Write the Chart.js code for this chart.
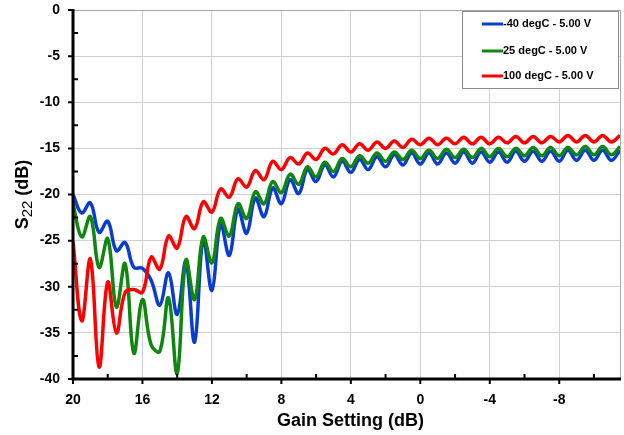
<!DOCTYPE html>
<html>
<head>
<meta charset="utf-8">
<script src="https://cdn.jsdelivr.net/npm/chart.js@4.4.1/dist/chart.umd.min.js"></script>
<style>
  body { margin: 0; background: #fff; }
  #wrap { width: 624px; height: 435px; position: relative; }
</style>
</head>
<body>
<div id="wrap"><canvas id="s22Chart"></canvas></div>
<script>
// gain setting steps, 20 dB down to -11.5 dB
const gainSetting = [
  20, 19.5, 19, 18.5, 18, 17.5, 17, 16.5,
  16, 15.5, 15, 14.5, 14, 13.5, 13, 12.5,
  12, 11.5, 11, 10.5, 10, 9.5, 9, 8.5,
  8, 7.5, 7, 6.5, 6, 5.5, 5, 4.5,
  4, 3.5, 3, 2.5, 2, 1.5, 1, 0.5,
  0, -0.5, -1, -1.5, -2, -2.5, -3, -3.5,
  -4, -4.5, -5, -5.5, -6, -6.5, -7, -7.5,
  -8, -8.5, -9, -9.5, -10, -10.5, -11, -11.5
];

// S22 (dB) per temperature
const s22Cold = [
  -20.0, -22.0, -20.9, -24.1, -22.9, -26.1, -25.2, -27.9,
  -28.0, -29.3, -32.0, -28.5, -33.0, -27.3, -36.0, -24.8,
  -30.4, -23.2, -26.6, -21.6, -24.2, -20.4, -22.4, -19.3,
  -21.0, -18.4, -19.9, -17.3, -18.6, -16.8, -18.1, -16.4,
  -17.6, -16.2, -17.3, -15.9, -17.0, -15.7, -16.8, -15.5,
  -16.7, -15.5, -16.7, -15.5, -16.6, -15.4, -16.6, -15.4,
  -16.5, -15.4, -16.5, -15.3, -16.4, -15.3, -16.4, -15.3,
  -16.4, -15.2, -16.3, -15.2, -16.3, -15.2, -16.3, -15.2
];
const s22Room = [
  -21.0, -24.6, -22.4, -27.9, -24.8, -32.2, -27.5, -37.2,
  -31.4, -36.3, -37.0, -31.2, -39.4, -27.1, -31.4, -24.6,
  -27.4, -22.6, -24.5, -21.0, -22.6, -19.7, -21.0, -18.6,
  -19.8, -17.8, -18.9, -17.0, -18.1, -16.5, -17.5, -16.1,
  -17.0, -15.8, -16.6, -15.5, -16.4, -15.4, -16.2, -15.2,
  -16.1, -15.2, -16.1, -15.1, -16.0, -15.1, -16.0, -15.0,
  -15.9, -15.0, -15.9, -15.0, -15.8, -14.9, -15.8, -14.9,
  -15.8, -14.9, -15.7, -14.8, -15.7, -14.8, -15.7, -14.8
];
const s22Hot = [
  -25.1, -33.7, -27.0, -38.7, -29.5, -35.0, -30.6, -30.3,
  -30.6, -26.8, -28.1, -24.5, -25.8, -22.4, -23.7, -20.8,
  -21.9, -19.4, -20.3, -18.3, -19.2, -17.4, -18.4, -16.4,
  -17.3, -16.0, -16.7, -15.5, -16.2, -15.0, -15.6, -14.6,
  -15.4, -14.5, -15.2, -14.3, -15.0, -14.2, -14.9, -14.0,
  -14.6, -13.9, -14.6, -13.9, -14.5, -13.8, -14.5, -13.8,
  -14.5, -13.8, -14.4, -13.7, -14.4, -13.7, -14.4, -13.7,
  -14.3, -13.6, -14.3, -13.6, -14.3, -13.6, -14.3, -13.6
];

const seriesLabels = ['-40 degC - 5.00 V', '25 degC - 5.00 V', '100 degC - 5.00 V'];
const xTicks = [20, 16, 12, 8, 4, 0, -4, -8];
const xMinorTicks = [18, 14, 10, 6, 2, -2, -6, -10];
const yTicks = [0, -5, -10, -15, -20, -25, -30, -35, -40];
const yMinorTicks = [-2.5, -7.5, -12.5, -17.5, -22.5, -27.5, -32.5, -37.5];

const FONT = '"Liberation Sans", Arial, sans-serif';

function pts(vals) {
  return gainSetting.map((g, i) => ({ x: g, y: vals[i] }));
}

// minor/major tick marks, y labels, frame, titles and legend
const decorations = {
  id: 'decorations',
  afterDatasetsDraw(chart) {
    const ctx = chart.ctx;
    const a = chart.chartArea;
    const xs = chart.scales.x, ys = chart.scales.y;
    ctx.save();
    // grey frame top/right
    ctx.strokeStyle = '#a8a8a8';
    ctx.lineWidth = 1;
    ctx.beginPath();
    ctx.moveTo(a.left, a.top + 0.5);
    ctx.lineTo(a.right + 0.5, a.top + 0.5);
    ctx.lineTo(a.right + 0.5, a.bottom);
    ctx.stroke();

    // axes
    ctx.strokeStyle = '#000';
    ctx.lineWidth = 3;
    ctx.beginPath();
    ctx.moveTo(a.left, a.top - 1);
    ctx.lineTo(a.left, a.bottom);
    ctx.lineTo(a.right + 1, a.bottom);
    ctx.stroke();

    ctx.lineWidth = 2;
    ctx.beginPath();
    yTicks.forEach(v => { const y = ys.getPixelForValue(v); ctx.moveTo(a.left - 5, y); ctx.lineTo(a.left, y); });
    yMinorTicks.forEach(v => { const y = ys.getPixelForValue(v); ctx.moveTo(a.left, y); ctx.lineTo(a.left + 5, y); });
    xTicks.forEach(v => { const x = xs.getPixelForValue(v); ctx.moveTo(x, a.bottom); ctx.lineTo(x, a.bottom + 5); });
    xMinorTicks.forEach(v => { const x = xs.getPixelForValue(v); ctx.moveTo(x, a.bottom - 5); ctx.lineTo(x, a.bottom); });
    ctx.stroke();

    // y tick labels
    ctx.fillStyle = '#000';
    ctx.font = 'bold 14px ' + FONT;
    ctx.textAlign = 'right';
    ctx.textBaseline = 'middle';
    ys.ticks.forEach(t => ctx.fillText(String(t.value), a.left - 13, ys.getPixelForValue(t.value)));

    // x title
    ctx.font = 'bold 18px ' + FONT;
    ctx.textAlign = 'center';
    ctx.fillText('Gain Setting (dB)', (a.left + a.right) / 2 + 4, 421);

    // y title with subscript
    ctx.translate(23, (a.top + a.bottom) / 2);
    ctx.rotate(-Math.PI / 2);
    ctx.textAlign = 'left';
    const big = 'bold 18px ' + FONT, small = '15px ' + FONT;
    ctx.font = big; const wS = ctx.measureText('S').width;
    ctx.font = small; const w22 = ctx.measureText('22').width;
    ctx.font = big; const wRest = ctx.measureText(' (dB)').width;
    let x0 = -(wS + w22 + wRest) / 2;
    ctx.font = big; ctx.fillText('S', x0, 0);
    ctx.font = small; ctx.fillText('22', x0 + wS, 5);
    ctx.font = big; ctx.fillText(' (dB)', x0 + wS + w22, 0);
    ctx.restore();

    // legend box
    ctx.save();
    const lx = 462, ly = 11, lw = 156, lh = 77;
    ctx.fillStyle = '#fff';
    ctx.fillRect(lx, ly, lw, lh);
    ctx.strokeStyle = '#8c8c8c';
    ctx.lineWidth = 1;
    ctx.strokeRect(lx + 0.5, ly + 0.5, lw, lh);
    ctx.font = 'bold 11px ' + FONT;
    ctx.textBaseline = 'middle';
    ctx.textAlign = 'left';
    const rows = [24, 51, 76];
    chart.data.datasets.forEach((ds, i) => {
      ctx.strokeStyle = ds.borderColor;
      ctx.lineWidth = 3;
      ctx.beginPath();
      ctx.moveTo(482, rows[i]);
      ctx.lineTo(503, rows[i]);
      ctx.stroke();
      ctx.fillStyle = '#000';
      ctx.fillText(ds.label, 503, rows[i]);
    });
    ctx.restore();
  }
};

new Chart(document.getElementById('s22Chart'), {
  type: 'line',
  data: {
    datasets: [
      { label: seriesLabels[0], data: pts(s22Cold), borderColor: '#0a3cd0', order: 3 },
      { label: seriesLabels[1], data: pts(s22Room), borderColor: '#0f870f', order: 2 },
      { label: seriesLabels[2], data: pts(s22Hot), borderColor: '#ff0000', order: 1 }
    ]
  },
  options: {
    responsive: true,
    maintainAspectRatio: false,
    animation: false,
    layout: { padding: { top: 10, right: 4, left: 0, bottom: 0 } },
    elements: {
      line: { borderWidth: 3.5, tension: 0.4, fill: false },
      point: { radius: 0 }
    },
    plugins: { legend: { display: false }, tooltip: { enabled: false } },
    scales: {
      x: {
        type: 'linear',
        reverse: true,
        min: -11.5,
        max: 20,
        afterBuildTicks: s => { s.ticks = xTicks.map(v => ({ value: v })); },
        afterFit: s => { s.height = 56; },
        grid: { color: '#cfcfcf', drawTicks: false },
        border: { display: false },
        ticks: { padding: 13, color: '#000', font: { family: FONT, size: 14, weight: 'bold' }, maxRotation: 0 }
      },
      y: {
        min: -40,
        max: 0,
        afterBuildTicks: s => { s.ticks = yTicks.map(v => ({ value: v })); },
        afterFit: s => { s.width = 73; },
        grid: { color: '#cfcfcf', drawTicks: false },
        border: { display: false },
        ticks: { display: false }
      }
    }
  },
  plugins: [decorations]
});
</script>
</body>
</html>
